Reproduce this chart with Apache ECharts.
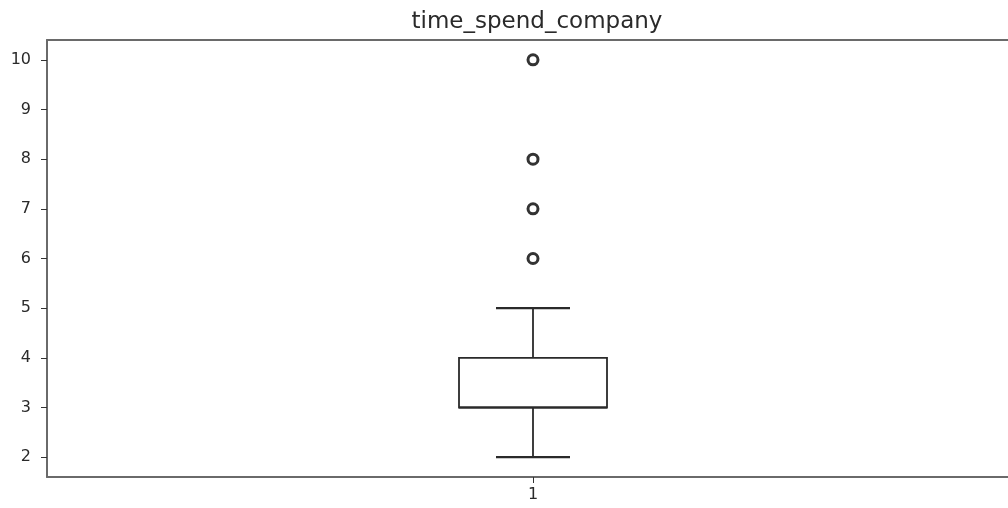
<!DOCTYPE html>
<html>
<head>
<meta charset="utf-8">
<script src="https://cdn.jsdelivr.net/npm/echarts@6/dist/echarts.min.js"></script>
<style>
html,body{margin:0;padding:0;background:#fff;}
#chart{width:1008px;height:508px;}
</style>
</head>
<body>
<div id="chart"></div>
<script>
const chartTitle = 'time_spend_company';
const categories = ['1'];
const positions = [1];
// [whiskerLow, Q1, median, Q3, whiskerHigh]
const boxStats = [2, 3, 3, 4, 5];
const outliers = [6, 7, 8, 10];
const yTicks = [2, 3, 4, 5, 6, 7, 8, 9, 10];

const boxWidth = 0.5;
const capWidth = 0.25;

const chart = echarts.init(document.getElementById('chart'), null, {renderer: 'canvas'});

const frameColor = '#6a6a6a';
const lineStyle = {stroke: '#2a2a2a', lineWidth: 1.8, fill: null};

const option = {
  animation: false,
  backgroundColor: '#fff',
  title: {
    text: chartTitle,
    left: 532,
    textAlign: 'center',
    top: 6,
    textStyle: {fontFamily: 'DejaVu Sans', fontSize: 23, fontWeight: 'normal', color: '#2a2a2a'}
  },
  grid: {
    left: 47, top: 40, right: 0, bottom: 31,
    show: false
  },
  xAxis: [{
    type: 'value',
    position: 'bottom',
    min: 1 - 486 / 296,
    max: 1 + 475 / 296,
    splitLine: {show: false},
    axisLine: {show: true, onZero: false, lineStyle: {color: frameColor, width: 2}},
    axisTick: {show: true, length: 6, lineStyle: {color: '#333'}, customValues: positions},
    axisLabel: {
      show: true, customValues: positions, margin: 10,
      formatter: function (v) { const i = positions.indexOf(v); return i >= 0 ? categories[i] : ''; },
      fontFamily: 'DejaVu Sans', fontSize: 16, color: '#2a2a2a'
    }
  }, {
    type: 'value',
    position: 'top',
    min: 0, max: 1,
    splitLine: {show: false},
    axisLine: {show: true, onZero: false, lineStyle: {color: frameColor, width: 2}},
    axisTick: {show: false},
    axisLabel: {show: false}
  }],
  yAxis: {
    type: 'value',
    position: 'left',
    min: 1.6,
    max: 10.4,
    splitLine: {show: false},
    axisLine: {show: true, onZero: false, lineStyle: {color: frameColor, width: 2}},
    axisTick: {show: true, length: 6, lineStyle: {color: '#333'}, customValues: yTicks},
    axisLabel: {
      show: true, customValues: yTicks, margin: 16,
      fontFamily: 'DejaVu Sans', fontSize: 16, color: '#2a2a2a'
    }
  },
  series: [
    {
      type: 'custom',
      xAxisIndex: 0,
      data: positions.map(p => [p].concat(boxStats)),
      renderItem: function (params, api) {
        const x = api.value(0);
        const lo = api.value(1), q1 = api.value(2), med = api.value(3), q3 = api.value(4), hi = api.value(5);
        const pL = api.coord([x - boxWidth / 2, q3]);
        const pR = api.coord([x + boxWidth / 2, q1]);
        const pc = api.coord([x, med]);
        const pLo = api.coord([x, lo]);
        const pHi = api.coord([x, hi]);
        const pQ1 = api.coord([x, q1]);
        const pQ3 = api.coord([x, q3]);
        const cL = api.coord([x - capWidth / 2, lo])[0];
        const cR = api.coord([x + capWidth / 2, lo])[0];
        return {
          type: 'group',
          children: [
            {type: 'rect', shape: {x: pL[0], y: pL[1], width: pR[0] - pL[0], height: pR[1] - pL[1]}, style: lineStyle},
            {type: 'line', shape: {x1: pL[0], y1: pc[1], x2: pR[0], y2: pc[1]}, style: lineStyle},
            {type: 'line', shape: {x1: pc[0], y1: pQ1[1], x2: pc[0], y2: pLo[1]}, style: lineStyle},
            {type: 'line', shape: {x1: pc[0], y1: pQ3[1], x2: pc[0], y2: pHi[1]}, style: lineStyle},
            {type: 'line', shape: {x1: cL, y1: pLo[1], x2: cR, y2: pLo[1]}, style: {stroke: '#2a2a2a', lineWidth: 2.4}},
            {type: 'line', shape: {x1: cL, y1: pHi[1], x2: cR, y2: pHi[1]}, style: {stroke: '#2a2a2a', lineWidth: 2.4}}
          ]
        };
      },
      z: 2
    },
    {
      type: 'scatter',
      xAxisIndex: 0,
      data: outliers.map(v => [positions[0], v]),
      symbol: 'circle',
      symbolSize: 10,
      itemStyle: {color: '#fff', borderColor: '#000', borderWidth: 3},
      z: 3
    }
  ]
};
chart.setOption(option);
</script>
</body>
</html>
